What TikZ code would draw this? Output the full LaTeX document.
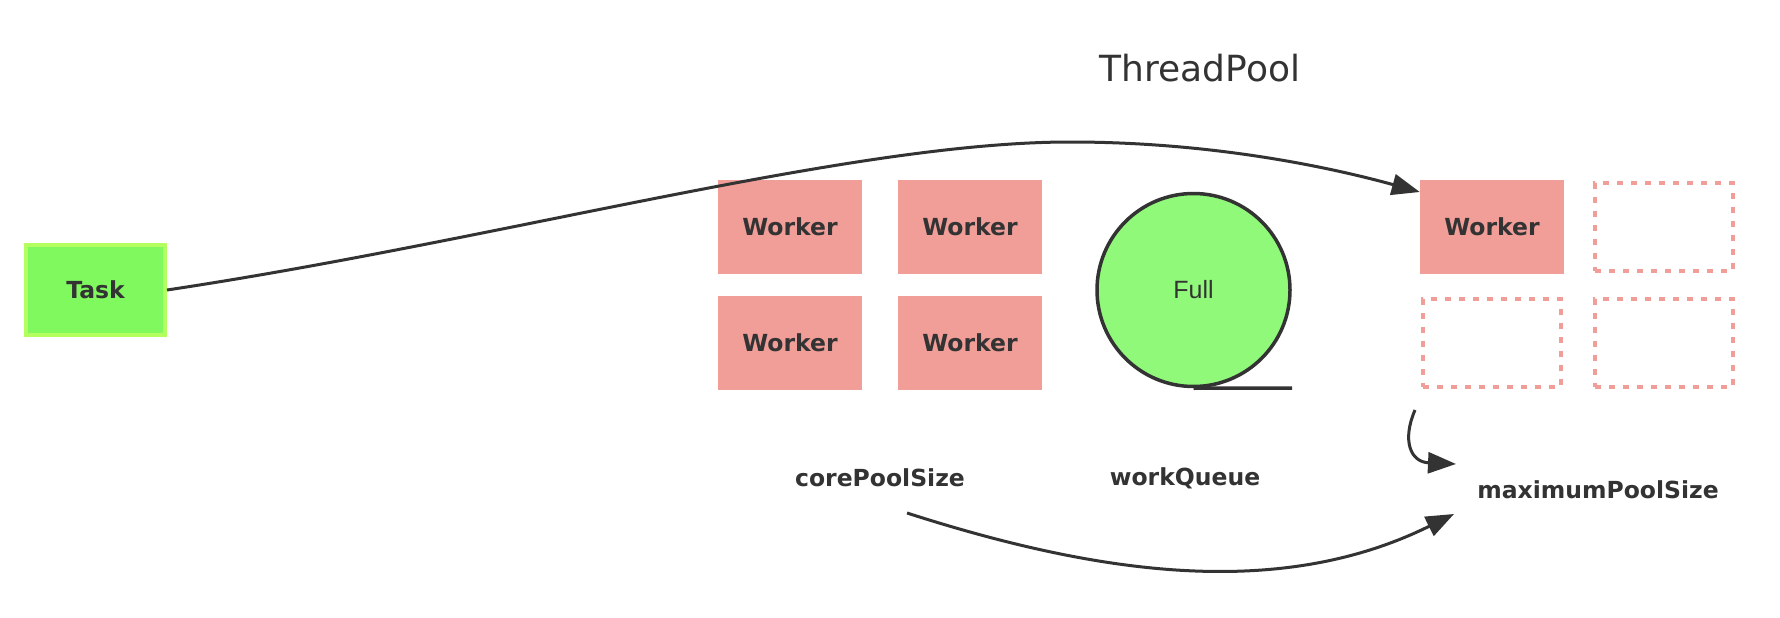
\documentclass[tikz,border=0pt]{standalone}
\usepackage{fontspec}
\setmainfont{DejaVu Sans}
\newfontfamily\fullfont{Liberation Sans}
\usetikzlibrary{arrows.meta}
\definecolor{ink}{HTML}{333333}
\definecolor{workerred}{HTML}{F19E99}
\definecolor{taskfill}{HTML}{80F95F}
\definecolor{taskline}{HTML}{B2FF5F}
\definecolor{queuefill}{HTML}{90F97A}
\tikzset{
	worker/.style={fill=workerred, minimum width=144pt, minimum height=94pt, inner sep=0pt,
		text=ink, font=\fontsize{23.5}{28}\selectfont\bfseries},
	freeslot/.style={draw=workerred, line width=4pt, dash pattern=on 6pt off 8pt,
		minimum width=138pt, minimum height=88pt, inner sep=0pt},
	label/.style={text=ink, font=\fontsize{23.5}{28}\selectfont\bfseries, inner sep=0pt},
	flow/.style={draw=ink, line width=3pt, -{Triangle[length=28pt,width=21pt]}}
}

\begin{document}
\begin{tikzpicture}[x=1pt, y=-1pt]
	\useasboundingbox[fill=white] (0,0) rectangle (1780,618);
	\node[text=ink, font=\fontsize{36}{42}\selectfont, inner sep=0pt] (title) at (1200,68) {ThreadPool};
	% task
	\node[fill=taskfill, draw=taskline, line width=4pt, minimum width=139pt, minimum height=90pt,
		text=ink, font=\fontsize{23.5}{28}\selectfont\bfseries] (task) at (95.5,290) {Task};
	% core workers
	\node[worker] (w1) at (790,227) {Worker};
	\node[worker] (w2) at (970,227) {Worker};
	\node[worker] (w3) at (790,343) {Worker};
	\node[worker] (w4) at (970,343) {Worker};
	% queue
	\node[circle, fill=queuefill, draw=ink, line width=3.5pt, minimum size=193pt, text=ink,
		font=\fullfont\fontsize{25}{30}\selectfont] (queue) at (1193.5,290) {Full};
	\draw[ink, line width=3.5pt] (queue.south) -- (1292,388);
	% extra workers
	\node[worker] (w5) at (1492,227) {Worker};
	\node[freeslot] (s1) at (1664,227) {};
	\node[freeslot] (s2) at (1492,343) {};
	\node[freeslot] (s3) at (1664,343) {};
	% labels
	\node[label] (core) at (880,478) {corePoolSize};
	\node[label] (wq) at (1185,478) {workQueue};
	\node[label] (max) at (1598,490) {maximumPoolSize};
	\coordinate (coreout) at (907,513);
	\coordinate (maxin) at (1454,514);
	\coordinate (slotout) at (1415,410);
	\coordinate (maxtop) at (1456,464);
	% arrows
	\draw[flow] (task.east) .. controls (500,240) and (850,142) .. (1070,142)
		.. controls (1220,142) and (1340,170) .. ([yshift=35pt]w5.west);
	\draw[flow] (coreout) .. controls (1100,575) and (1280,600) .. (maxin);
	\draw[flow] (slotout) .. controls (1402,440) and (1410,462) .. (maxtop);
\end{tikzpicture}
\end{document}
